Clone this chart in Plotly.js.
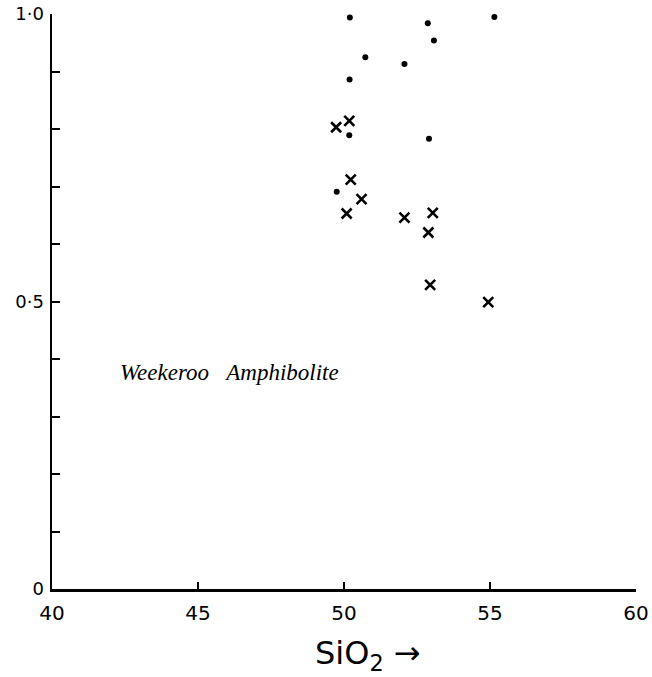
<!DOCTYPE html>
<html>
<head>
<meta charset="utf-8">
<script src="https://cdn.plot.ly/plotly-3.0.1.min.js"></script>
<style>html,body{margin:0;padding:0;background:#fff;}#chart{width:652px;height:677px;}</style>
</head>
<body>
<div id="chart"></div>
<script>
// Dots (filled circles)
const dotSiO2  = [50.2, 52.87, 55.15, 53.08, 50.73, 52.07, 50.19, 50.18, 52.91, 49.75];
const dotRatio = [0.994, 0.984, 0.995, 0.954, 0.925, 0.913, 0.886, 0.789, 0.783, 0.691];
// Crosses
const crossSiO2  = [49.73, 50.18, 50.23, 50.6, 50.09, 52.07, 53.04, 52.89, 52.95, 54.94];
const crossRatio = [0.803, 0.814, 0.712, 0.678, 0.653, 0.646, 0.654, 0.620, 0.529, 0.499];

const xTickVals = [40, 45, 50, 55, 60];
const xTickText = ['40', '45', '50', '55', '60'];
const yTickVals = [0, 0.5, 1.0];
const yTickText = ['0', '0·5', '1·0'];

const fontFam = 'DejaVu Sans, sans-serif';

const traces = [
  {
    type: 'scatter', mode: 'markers', x: dotSiO2, y: dotRatio,
    marker: {symbol: 'circle', size: 6, color: '#000'},
    hoverinfo: 'skip', showlegend: false, cliponaxis: false
  },
  {
    type: 'scatter', mode: 'markers', x: crossSiO2, y: crossRatio,
    marker: {symbol: 'x-thin', size: 10, color: '#000', line: {color: '#000', width: 2.6}},
    hoverinfo: 'skip', showlegend: false, cliponaxis: false
  }
];

const layout = {
  width: 652, height: 677,
  margin: {l: 52, r: 16, t: 14, b: 88},
  paper_bgcolor: '#fff', plot_bgcolor: '#fff',
  showlegend: false,
  xaxis: {
    range: [40, 60], tickvals: xTickVals, ticktext: xTickText,
    ticks: 'inside', ticklen: 7, tickwidth: 2, tickcolor: '#000',
    showline: true, linewidth: 2.5, linecolor: '#000',
    showgrid: false, zeroline: false,
    tickfont: {family: fontFam, size: 20, color: '#000'},
    ticklabelstandoff: 4
  },
  yaxis: {
    range: [0, 1.0], tickvals: yTickVals, ticktext: yTickText,
    ticks: 'inside', ticklen: 8, tickwidth: 2, tickcolor: '#000',
    minor: {dtick: 0.1, ticks: 'inside', ticklen: 8, tickwidth: 2, tickcolor: '#000', showgrid: false},
    showline: true, linewidth: 2.5, linecolor: '#000',
    showgrid: false, zeroline: false,
    tickfont: {family: fontFam, size: 18, color: '#000'},
    ticklabelstandoff: 2
  },
  annotations: [
    {
      text: 'Weekeroo\u00a0\u00a0\u00a0Amphibolite', xref: 'paper', yref: 'paper',
      x: (118 - 52) / 584, y: (589 - 372) / 575, xanchor: 'left', yanchor: 'middle',
      showarrow: false,
      font: {family: 'Liberation Serif, serif', size: 23, color: '#000', style: 'italic'}
    },
    {
      text: 'SiO<sub>2</sub> \u2192', xref: 'paper', yref: 'paper',
      x: (368 - 52) / 584, y: -(655 - 589) / 575, xanchor: 'center', yanchor: 'middle',
      showarrow: false,
      font: {family: fontFam, size: 32, color: '#000'}
    }
  ]
};

Plotly.newPlot('chart', traces, layout, {displayModeBar: false, staticPlot: true});
</script>
</body>
</html>
